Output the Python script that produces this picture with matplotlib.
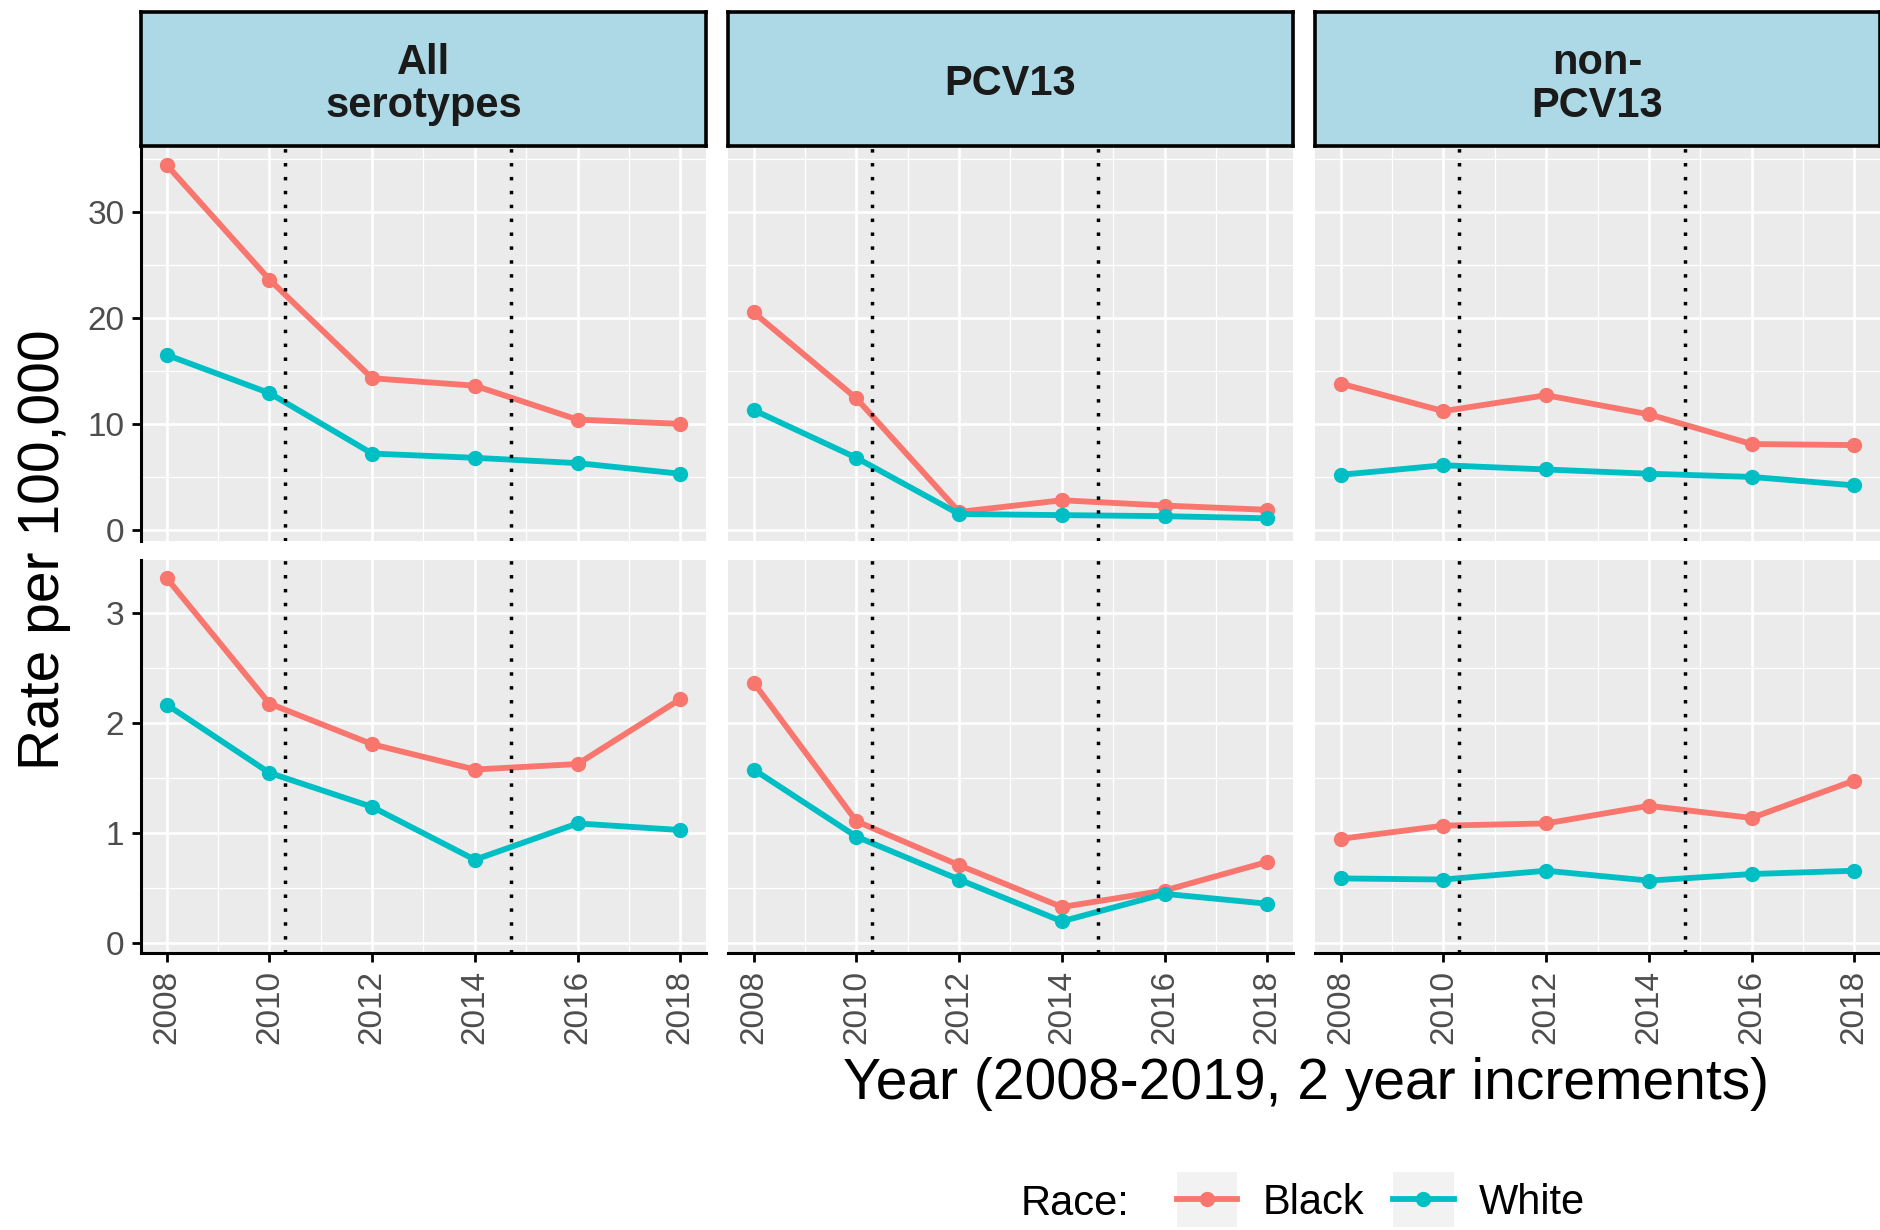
import matplotlib
matplotlib.use("Agg")
import matplotlib.pyplot as plt
from matplotlib.lines import Line2D
from matplotlib.patches import Rectangle
from matplotlib.legend_handler import HandlerLine2D

plt.rcParams['font.family'] = ['Liberation Sans', 'DejaVu Sans']

# ---------------- data ----------------
years = [2008, 2010, 2012, 2014, 2016, 2018]
serotype_groups = ["All\nserotypes", "PCV13", "non-\nPCV13"]
races = ["Black", "White"]

# top row (first age group)
top_all_black = [34.4, 23.6, 14.3, 13.6, 10.4, 10.0]
top_all_white = [16.5, 12.9, 7.2, 6.8, 6.3, 5.3]
top_pcv_black = [20.5, 12.4, 1.7, 2.8, 2.3, 1.9]
top_pcv_white = [11.3, 6.8, 1.5, 1.4, 1.3, 1.1]
top_non_black = [13.8, 11.2, 12.7, 10.9, 8.1, 8.0]
top_non_white = [5.2, 6.1, 5.7, 5.3, 5.0, 4.2]

# bottom row (second age group)
bot_all_black = [3.32, 2.18, 1.81, 1.58, 1.63, 2.22]
bot_all_white = [2.17, 1.55, 1.24, 0.76, 1.09, 1.03]
bot_pcv_black = [2.37, 1.11, 0.71, 0.33, 0.48, 0.74]
bot_pcv_white = [1.58, 0.97, 0.58, 0.20, 0.45, 0.36]
bot_non_black = [0.95, 1.07, 1.09, 1.25, 1.14, 1.48]
bot_non_white = [0.59, 0.58, 0.66, 0.57, 0.63, 0.66]

vaccine_dates = [2010.3, 2014.7]

x_ticks = [2008, 2010, 2012, 2014, 2016, 2018]
top_yticks = [0, 10, 20, 30]
bot_yticks = [0, 1, 2, 3]

series = [
    [(top_all_black, top_all_white), (top_pcv_black, top_pcv_white), (top_non_black, top_non_white)],
    [(bot_all_black, bot_all_white), (bot_pcv_black, bot_pcv_white), (bot_non_black, bot_non_white)],
]

# ---------------- style ----------------
colors = {"Black": "#F8766D", "White": "#00BFC4"}
W, H = 1881, 1230
fig = plt.figure(figsize=(W / 100, H / 100), dpi=100)

def fx(x):
    return x / W

def fy(y):
    return 1 - y / H

col_left = [141, 728, 1315]
col_w = 565
rows = [(146, 541), (560, 953)]
ylims = [(-1.04, 36.19), (-0.088, 3.485)]
yticks = [top_yticks, bot_yticks]
yminor = [[5, 15, 25, 35], [0.5, 1.5, 2.5]]
xminor = [2009, 2011, 2013, 2015, 2017]
strip_top, strip_bot = 12, 146

LW, MS = 4.2, 10
tick_color = "#4D4D4D"
for r in range(2):
    top, bot = rows[r]
    for c in range(3):
        ax = fig.add_axes([fx(col_left[c]), fy(bot), fx(col_w), (bot - top) / H])
        ax.set_facecolor("#EBEBEB")
        ax.set_xlim(2007.5, 2018.5)
        ax.set_ylim(*ylims[r])
        ax.set_xticks(x_ticks)
        ax.set_xticks(xminor, minor=True)
        ax.set_yticks(yticks[r])
        ax.set_yticks(yminor[r], minor=True)
        ax.grid(which="major", color="white", lw=1.9)
        ax.grid(which="minor", color="white", lw=0.9)
        ax.set_axisbelow(True)
        for s in ax.spines.values():
            s.set_visible(False)
        ax.tick_params(which="minor", length=0)
        ax.tick_params(which="major", length=6.5, width=2.0, color="black",
                       labelcolor=tick_color, labelsize=24, pad=5.5)
        if c == 0:
            ax.spines["left"].set_visible(True)
            ax.spines["left"].set_linewidth(2.2)
            ax.spines["left"].set_color("black")
        else:
            ax.tick_params(axis="y", left=False, labelleft=False)
        if r == 1:
            ax.spines["bottom"].set_visible(True)
            ax.spines["bottom"].set_linewidth(2.2)
            ax.spines["bottom"].set_color("black")
            ax.set_xticklabels([str(v) for v in x_ticks], rotation=90)
        else:
            ax.tick_params(axis="x", bottom=False, labelbottom=False)

        b, w = series[r][c]
        ax.plot(years, b, color=colors["Black"], lw=LW, marker="o", ms=MS, zorder=3)
        ax.plot(years, w, color=colors["White"], lw=LW, marker="o", ms=MS, zorder=3)
        for d in vaccine_dates:
            ax.axvline(d, color="black", lw=2.5, linestyle=(0, (1.0, 3.0)), zorder=4)

        if r == 0:
            sax = fig.add_axes([fx(col_left[c]), fy(strip_bot), fx(col_w), (strip_bot - strip_top) / H])
            sax.set_facecolor("#ADD8E6")
            sax.set_xticks([])
            sax.set_yticks([])
            for s in sax.spines.values():
                s.set_linewidth(2.6)
                s.set_color("black")
            sax.text(0.5, 0.46, serotype_groups[c], ha="center", va="center",
                     fontsize=30, fontweight="bold", color="#1A1A1A",
                     linespacing=1.1, transform=sax.transAxes)

# axis titles
fig.text(fx(44), fy(550), "Rate per 100,000", rotation=90, ha="center", va="center",
         fontsize=41, color="black")
fig.text(fx(1306), fy(1084), "Year (2008-2019, 2 year increments)", ha="center",
         va="center", fontsize=41, color="black")

# legend
class KeyHandler(HandlerLine2D):
    def create_artists(self, legend, orig_handle, xdescent, ydescent, width, height, fontsize, trans):
        bg = Rectangle((-xdescent, -ydescent - 0.35 * height), width, height * 1.7,
                       facecolor="#F2F2F2", edgecolor="none", transform=trans)
        arts = super().create_artists(legend, orig_handle, xdescent, ydescent, width, height, fontsize, trans)
        return [bg] + list(arts)

handles = [Line2D([], [], color=colors[k], lw=LW, marker="o", ms=MS) for k in races]
fig.text(fx(1021), fy(1204), "Race:", ha="left", va="center", fontsize=30, color="black")
leg = fig.legend(handles, races, loc="center left", bbox_to_anchor=(fx(1177), fy(1203)),
                 ncol=2, frameon=False, fontsize=30, handlelength=1.45, handleheight=0.8,
                 handletextpad=0.6, columnspacing=0.7, borderpad=0, borderaxespad=0,
                 handler_map={Line2D: KeyHandler(numpoints=1)})

fig.savefig("out.png", dpi=100)
